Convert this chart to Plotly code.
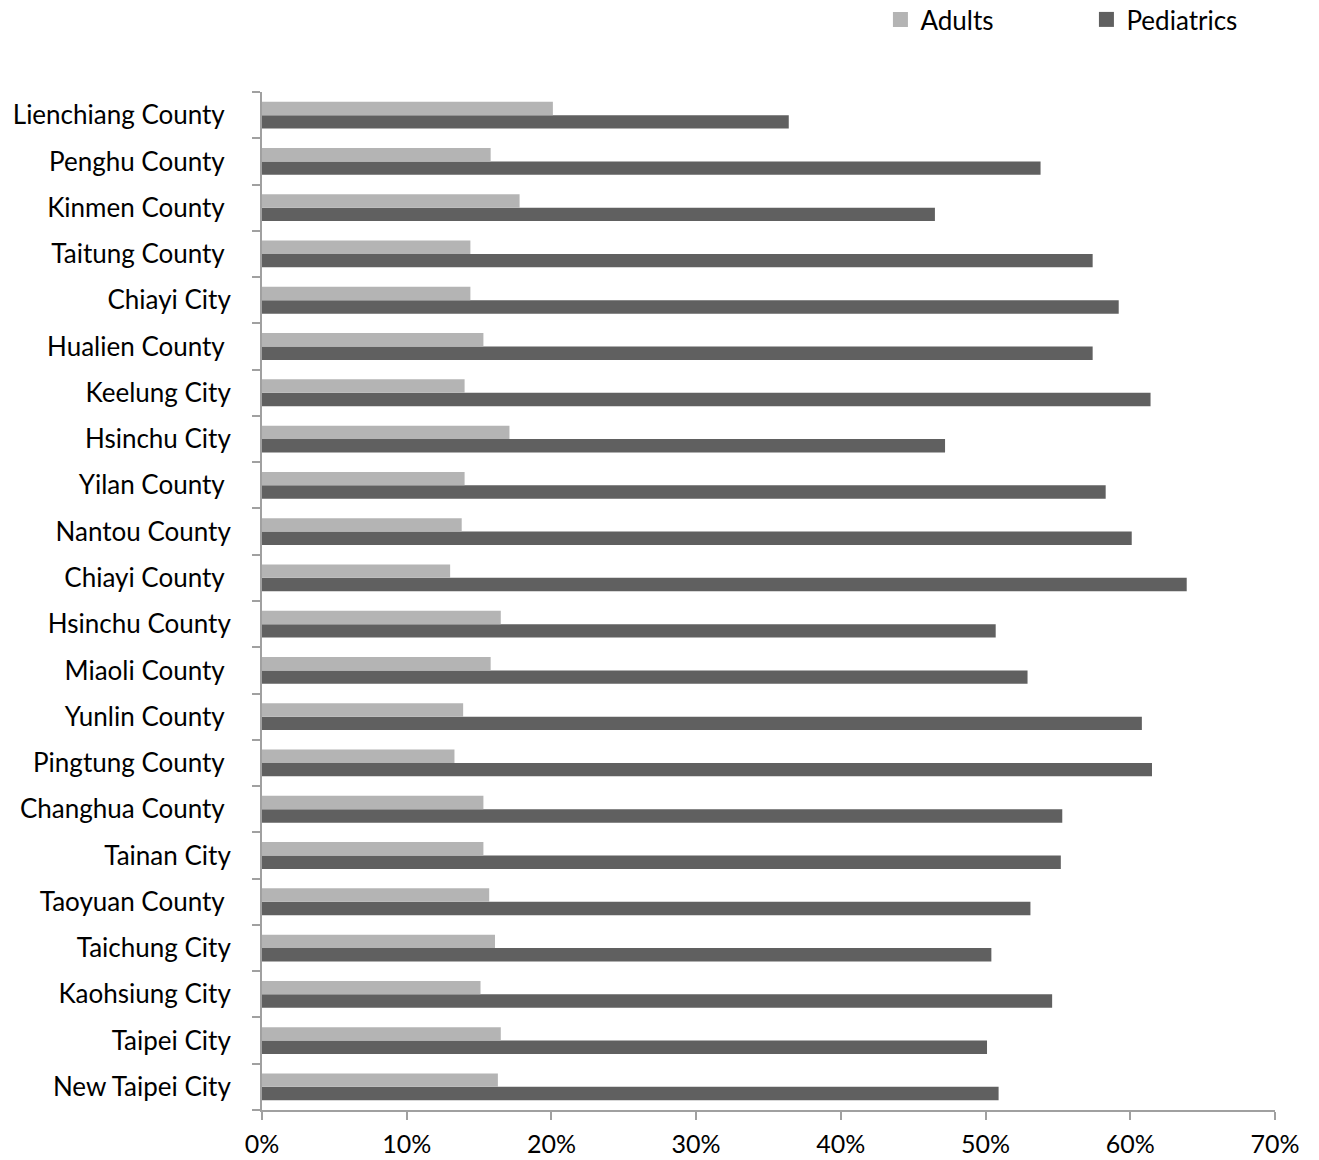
import plotly.graph_objects as go

categories = [
    "New Taipei City", "Taipei City", "Kaohsiung City", "Taichung City",
    "Taoyuan County\u00a0", "Tainan City", "Changhua County\u00a0", "Pingtung County\u00a0",
    "Yunlin County\u00a0", "Miaoli County\u00a0", "Hsinchu County", "Chiayi County\u00a0",
    "Nantou County", "Yilan County\u00a0", "Hsinchu City", "Keelung City",
    "Hualien County\u00a0", "Chiayi City", "Taitung County\u00a0", "Kinmen County\u00a0",
    "Penghu County\u00a0", "Lienchiang County\u00a0",
]
adults = [0.163, 0.165, 0.151, 0.161, 0.157, 0.153, 0.153, 0.133, 0.139, 0.158,
          0.165, 0.130, 0.138, 0.140, 0.171, 0.140, 0.153, 0.144, 0.144, 0.178,
          0.158, 0.201]
pediatrics = [0.509, 0.501, 0.546, 0.504, 0.531, 0.552, 0.553, 0.615, 0.608, 0.529,
              0.507, 0.639, 0.601, 0.583, 0.472, 0.614, 0.574, 0.592, 0.574, 0.465,
              0.538, 0.364]
tick_vals = [0, 0.1, 0.2, 0.3, 0.4, 0.5, 0.6, 0.7]

font = "Lato, 'Open Sans', sans-serif"
c_adult = "#b4b4b4"
c_ped = "#606060"

fig = go.Figure()
fig.add_trace(go.Bar(y=categories, x=pediatrics, name="Pediatrics", orientation="h",
                     marker=dict(color=c_ped, line=dict(width=0)), showlegend=False))
fig.add_trace(go.Bar(y=categories, x=adults, name="Adults", orientation="h",
                     marker=dict(color=c_adult, line=dict(width=0)), showlegend=False))
# legend entries with larger square swatches
fig.add_trace(go.Scatter(x=[None], y=[None], mode="markers", name="Adults",
                         marker=dict(symbol="square", size=15, color=c_adult),
                         legendrank=1))
fig.add_trace(go.Scatter(x=[None], y=[None], mode="markers", name="Pediatrics",
                         marker=dict(symbol="square", size=15, color=c_ped),
                         legendrank=2))

fig.update_layout(
    width=1319, height=1160,
    margin=dict(l=262, r=44, t=92, b=50, autoexpand=False),
    barmode="group", bargap=0.42, bargroupgap=0,
    plot_bgcolor="white", paper_bgcolor="white",
    font=dict(family=font, size=26, color="black"),
    legend=dict(orientation="h", x=0.6675, xanchor="left", xref="container",
                y=1.0943, yanchor="top", yref="paper",
                entrywidth=161, entrywidthmode="pixels",
                font=dict(size=26), itemwidth=30, tracegroupgap=0),
    showlegend=True,
)
fig.update_xaxes(range=[0, 0.7], tickvals=tick_vals, tickformat=".0%",
                 showgrid=False, zeroline=False, showline=True, linecolor="#a0a0a0",
                 linewidth=2, ticks="outside", ticklen=8, tickcolor="#a0a0a0", tickwidth=2,
                 tickfont=dict(size=25), ticklabelstandoff=3, automargin=False)
fig.update_yaxes(type="category", categoryorder="array", categoryarray=categories,
                 showgrid=False, showline=True, linecolor="#a0a0a0", linewidth=2,
                 ticks="outside", ticklen=8, tickcolor="#a0a0a0", tickwidth=2,
                 tickson="boundaries", ticklabelstandoff=24, tickfont=dict(size=26),
                 automargin=False)

fig.write_html("out.html")
